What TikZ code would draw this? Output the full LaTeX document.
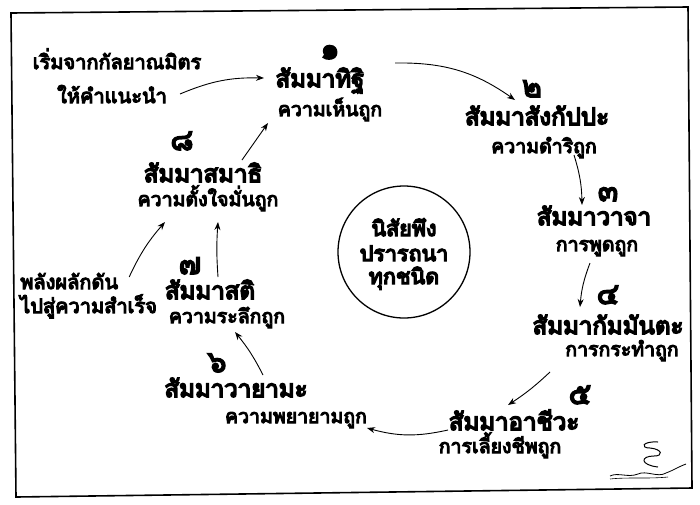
\documentclass[tikz,border=0pt]{standalone}
\usepackage{fontspec}
\newfontfamily\thai[Script=Thai, FakeBold=5.5]{Loma}
\newfontfamily\thaiH[Script=Thai, FakeBold=6.5]{Loma}
\newfontfamily\thaiN[Script=Thai, FakeBold=5]{Loma}
\usetikzlibrary{arrows.meta}
\begin{document}
\begin{tikzpicture}[x=1pt,y=-1pt,
  tterm/.style={font=\thaiH\fontsize{24}{26}\selectfont, inner sep=0, anchor=base},
  tsub/.style={font=\thai\fontsize{19.5}{21}\selectfont, inner sep=0, anchor=base},
  tnum/.style={font=\thaiN\fontsize{30}{32}\selectfont, inner sep=0, anchor=base},
  tnote/.style={font=\thai\fontsize{20}{22}\selectfont, inner sep=0, anchor=base},
  tcirc/.style={font=\thaiH\fontsize{21.5}{23}\selectfont, inner sep=0, anchor=base},
  arr/.style={line width=0.9pt, -{Stealth[length=8pt,width=6pt]}}
]
\useasboundingbox (0,0) rectangle (700,504);
\fill[white] (0,0) rectangle (700,504);
% frame
\draw[line width=1.6pt, line join=miter] (11,13) -- (688,7) -- (692,488) -- (16,497) -- cycle;

% notes
\node[tnote] (note1a) at (117,69) {เริ่มจากกัลยาณมิตร};
\node[tnote] (note1b) at (112,103) {ให้คำแนะนำ};
\node[tnote, anchor=base west] (note2a) at (20,289) {พลังผลักดัน};
\node[tnote, anchor=base west] (note2b) at (20,313) {ไปสู่ความสำเร็จ};

% 1
\node[tnum] (n1) at (330,59) {๑};
\node[tterm] (t1) at (320,87) {สัมมาทิฐิ};
\node[tsub] (s1) at (330,116) {ความเห็นถูก};
% 2
\node[tnum] (n2) at (532,97) {๒};
\node[tterm] (t2) at (537,125) {สัมมาสังกัปปะ};
\node[tsub] (s2) at (544,153) {ความดำริถูก};
% 3
\node[tnum] (n3) at (608,201) {๓};
\node[tterm] (t3) at (594,225) {สัมมาวาจา};
\node[tsub] (s3) at (597,251) {การพูดถูก};
% 4
\node[tnum] (n4) at (608,304) {๔};
\node[tterm] (t4) at (608,334) {สัมมากัมมันตะ};
\node[tsub] (s4) at (622,356) {การกระทำถูก};
% 5
\node[tnum] (n5) at (580,404) {๕};
\node[tterm] (t5) at (514,430) {สัมมาอาชีวะ};
\node[tsub] (s5) at (500,453) {การเลี้ยงชีพถูก};
% 6
\node[tnum] (n6) at (217,372) {๖};
\node[tterm] (t6) at (236,397) {สัมมาวายามะ};
\node[tsub] (s6) at (296,423) {ความพยายามถูก};
% 7
\node[tnum] (n7) at (190,274) {๗};
\node[tterm] (t7) at (210,299) {สัมมาสติ};
\node[tsub] (s7) at (227,323) {ความระลึกถูก};
% 8
\node[tnum] (n8) at (182,150) {๘};
\node[tterm] (t8) at (203,182) {สัมมาสมาธิ};
\node[tsub] (s8) at (208,206) {ความตั้งใจมั่นถูก};

% circle
\node[circle, draw, line width=1.3pt, minimum size=132pt, inner sep=0] (c) at (404,252) {};
\node[tcirc] (c1) at (404,236) {นิสัยพึง};
\node[tcirc] (c2) at (404,261) {ปรารถนา};
\node[tcirc] (c3) at (404,284) {ทุกชนิด};

% arrows
\draw[arr] ([shift={(68,-9)}]note1b.base) to[bend left=12] ([shift={(-56,-9)}]t1.base);
\draw[arr] ([shift={(75,-24)}]t1.base) to[bend left=18] ([shift={(-17,3)}]n2.base);
\draw[arr] ([shift={(30,2)}]s2.base) to[bend left=8] ([shift={(-26,4)}]n3.base);
\draw[arr] ([shift={(-7,12)}]s3.base) to[bend right=8] ([shift={(-28,3)}]n4.base);
\draw[arr] ([shift={(-72,16)}]s4.base) to[bend left=5] ([shift={(-6,-25)}]t5.base);
\draw[arr] ([shift={(-66,0)}]t5.base) to[bend left=14] ([shift={(71,5)}]s6.base);
\draw[arr] ([shift={(27,-22)}]t6.base) to[bend right=6] ([shift={(8,9)}]s7.base);
\draw[arr] ([shift={(8,-22)}]t7.base) to[bend left=4] ([shift={(10,16)}]s8.base);
\draw[arr] ([shift={(39,-22)}]t8.base) -- ([shift={(-62,7)}]s1.base);
\draw[arr] ([shift={(60,-12)}]note2a.base) to[bend left=8] ([shift={(-43,16)}]s8.base);

% signature
\coordinate (sig) at (648,470);
\draw[line width=0.8pt] ([shift={(-38,6)}]sig) .. controls ([shift={(-30,2)}]sig) and ([shift={(-20,8)}]sig) .. ([shift={(-10,4)}]sig)
  .. controls ([shift={(-2,0)}]sig) and ([shift={(10,8)}]sig) .. ([shift={(18,3)}]sig)
  .. controls ([shift={(26,0)}]sig) and ([shift={(32,-4)}]sig) .. ([shift={(38,-6)}]sig);
\draw[line width=1pt] ([shift={(10,-3)}]sig) .. controls ([shift={(-8,-5)}]sig) and ([shift={(-8,-14)}]sig) .. ([shift={(6,-14)}]sig)
  .. controls ([shift={(16,-14)}]sig) and ([shift={(14,-21)}]sig) .. ([shift={(2,-22)}]sig)
  .. controls ([shift={(-8,-22)}]sig) and ([shift={(-6,-29)}]sig) .. ([shift={(10,-28)}]sig);
\draw[line width=0.6pt] ([shift={(-38,9)}]sig) .. controls ([shift={(-20,7)}]sig) and ([shift={(0,9)}]sig) .. ([shift={(20,7)}]sig);
\end{tikzpicture}
\end{document}
